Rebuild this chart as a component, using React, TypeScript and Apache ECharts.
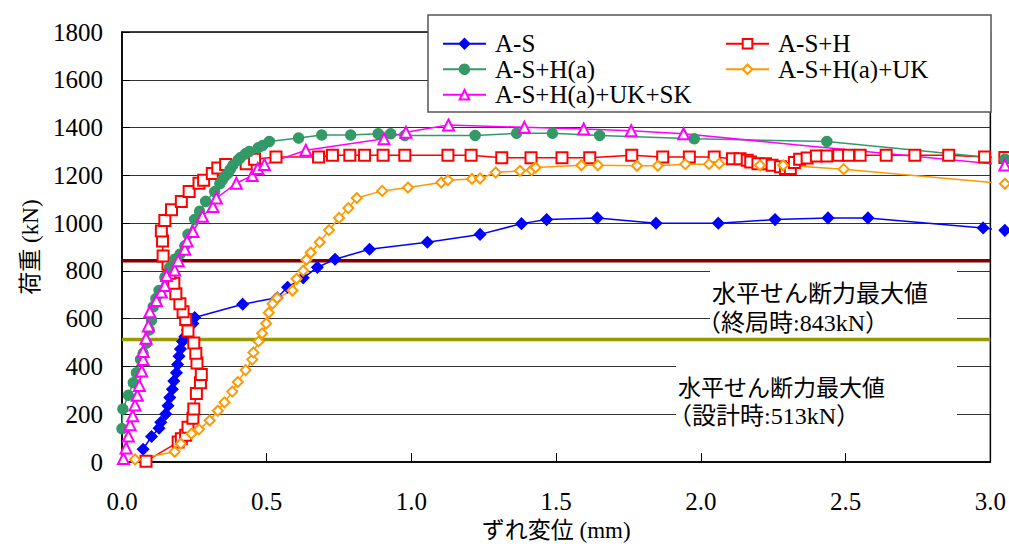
import React, { useEffect, useRef } from "react";
import * as echarts from "echarts";

const X_TICKS = [0, 0.5, 1.0, 1.5, 2.0, 2.5, 3.0];
const Y_MAX = 1800;
const Y_STEP = 200;
const ULTIMATE_KN = 843;
const DESIGN_KN = 513;

const NAMES = ["A-S", "A-S+H", "A-S+H(a)", "A-S+H(a)+UK", "A-S+H(a)+UK+SK"];

const AS: number[][] = [
  [0.073, 54], [0.102, 107], [0.128, 142], [0.134, 167], [0.151, 201], [0.159, 236], [0.165, 270],
  [0.174, 305], [0.179, 339], [0.188, 374], [0.192, 408], [0.197, 443], [0.202, 473], [0.209, 505],
  [0.217, 525], [0.226, 553], [0.245, 580], [0.251, 605], [0.417, 661], [0.536, 688], [0.572, 732],
  [0.626, 771], [0.675, 815], [0.736, 849], [0.855, 891], [1.055, 920], [1.237, 953], [1.38, 998],
  [1.467, 1015], [1.642, 1022], [1.845, 1000], [2.06, 1000], [2.256, 1015], [2.439, 1022],
  [2.577, 1022], [2.975, 980], [3.05, 970],
];

const ASH: number[][] = [
  [0.083, 4], [0.194, 84], [0.205, 98], [0.22, 112], [0.228, 146], [0.245, 183], [0.248, 222],
  [0.257, 287], [0.271, 332], [0.274, 367], [0.259, 415], [0.255, 456], [0.248, 498], [0.228, 549],
  [0.22, 597], [0.211, 629], [0.2, 663], [0.186, 705], [0.179, 749], [0.165, 790], [0.159, 829],
  [0.142, 863], [0.14, 925], [0.136, 967], [0.148, 1011], [0.171, 1056], [0.205, 1091], [0.232, 1132],
  [0.266, 1167], [0.282, 1180], [0.312, 1208], [0.331, 1231], [0.358, 1245], [0.429, 1249],
  [0.458, 1267], [0.532, 1277], [0.679, 1277], [0.727, 1284], [0.787, 1284], [0.838, 1284],
  [0.902, 1284], [0.977, 1284], [1.126, 1284], [1.206, 1284], [1.312, 1274], [1.413, 1274],
  [1.52, 1274], [1.616, 1274], [1.761, 1284], [1.868, 1277], [1.96, 1277], [2.046, 1277],
  [2.109, 1270], [2.135, 1270], [2.16, 1263], [2.172, 1256], [2.197, 1249], [2.223, 1249],
  [2.246, 1242], [2.275, 1236], [2.292, 1229], [2.309, 1229], [2.323, 1254], [2.341, 1267],
  [2.367, 1273], [2.399, 1281], [2.435, 1281], [2.476, 1284], [2.51, 1284], [2.55, 1284],
  [2.64, 1284], [2.739, 1284], [2.856, 1284], [2.98, 1277], [3.05, 1275],
];

const ASHA: number[][] = [
  [0.0, 140], [0.003, 222], [0.022, 280], [0.039, 332], [0.05, 374], [0.064, 429], [0.073, 456],
  [0.085, 498], [0.094, 553], [0.102, 594], [0.108, 650], [0.117, 684], [0.128, 718], [0.148, 774],
  [0.165, 815], [0.182, 849], [0.2, 870], [0.217, 905], [0.228, 953], [0.251, 1015], [0.268, 1050],
  [0.289, 1091], [0.32, 1132], [0.338, 1165], [0.346, 1180], [0.355, 1195], [0.366, 1208],
  [0.374, 1225], [0.383, 1242], [0.4, 1263], [0.41, 1275], [0.427, 1291], [0.44, 1300],
  [0.47, 1315], [0.486, 1325], [0.509, 1342], [0.61, 1356], [0.69, 1369], [0.79, 1369],
  [0.885, 1374], [0.928, 1374], [0.977, 1367], [1.22, 1367], [1.363, 1376], [1.487, 1376],
  [1.65, 1367], [1.977, 1353], [2.435, 1342], [3.05, 1268],
];

const ASHAUK: number[][] = [
  [0.045, 11], [0.182, 43], [0.203, 77], [0.24, 119], [0.266, 137], [0.303, 174], [0.331, 215],
  [0.354, 250], [0.381, 295], [0.4, 335], [0.427, 385], [0.45, 429], [0.454, 459], [0.472, 505],
  [0.484, 539], [0.498, 580], [0.507, 625], [0.52, 663], [0.536, 687], [0.589, 718], [0.603, 767],
  [0.626, 801], [0.637, 847], [0.652, 877], [0.683, 920], [0.715, 971], [0.75, 1022], [0.782, 1063],
  [0.811, 1105], [0.899, 1135], [0.988, 1149], [1.103, 1170], [1.126, 1180], [1.209, 1185],
  [1.237, 1187], [1.291, 1212], [1.375, 1219], [1.415, 1222], [1.429, 1233], [1.587, 1242],
  [1.644, 1242], [1.779, 1240], [1.851, 1240], [1.946, 1247], [2.028, 1247], [2.063, 1249],
  [2.204, 1242], [2.284, 1242], [2.493, 1226], [3.05, 1165],
];

const ASHAUKSK: number[][] = [
  [0.005, 15], [0.014, 59], [0.022, 109], [0.028, 156], [0.037, 194], [0.045, 239], [0.053, 280],
  [0.06, 321], [0.068, 381], [0.073, 429], [0.073, 463], [0.083, 518], [0.091, 570], [0.096, 629],
  [0.119, 676], [0.136, 712], [0.148, 739], [0.154, 781], [0.182, 804], [0.194, 843], [0.217, 891],
  [0.225, 925], [0.245, 965], [0.278, 1029], [0.314, 1070], [0.326, 1105], [0.395, 1167],
  [0.45, 1199], [0.469, 1229], [0.492, 1245], [0.635, 1305], [0.905, 1353], [0.981, 1380],
  [1.128, 1411], [1.39, 1401], [1.595, 1394], [1.759, 1387], [1.94, 1374], [3.05, 1243],
];

const SERIF = "Liberation Serif, Noto Sans CJK JP, serif";
const GOTHIC = "Noto Sans CJK JP, sans-serif";

export default function App() {
  const ref = useRef<HTMLDivElement>(null);
  useEffect(() => {
    if (!ref.current) return;
    const chart = echarts.init(ref.current, undefined, { renderer: "svg" });
    const mk = (name: string, data: number[][], color: string, symbol: string, size: number) => ({
      name,
      type: "line",
      data,
      clip: false,
      symbol,
      symbolSize: size,
      showSymbol: true,
      lineStyle: { color, width: 1.5 },
      itemStyle: { color, borderColor: color, borderWidth: 1.5 },
      z: 3,
    });
    const legendText = {
      fontFamily: SERIF,
      fontSize: 25,
      lineHeight: 25.5,
      color: "#000",
      padding: [0, 0, 0, 4],
    };
    const option: any = {
      animation: false,
      backgroundColor: "#fff",
      grid: {
        left: 122,
        right: 15,
        top: 32,
        bottom: 80,
        show: true,
        borderColor: "#000",
        borderWidth: 1.5,
        backgroundColor: "transparent",
      },
      legend: [
        {
          data: [NAMES[0], NAMES[2], NAMES[4]],
          orient: "vertical",
          left: 437,
          top: 26,
          itemWidth: 43,
          itemHeight: 12,
          itemGap: 0,
          selectedMode: false,
          textStyle: legendText,
          z: 10,
        },
        {
          data: [NAMES[1], NAMES[3]],
          orient: "vertical",
          left: 720,
          top: 26,
          itemWidth: 43,
          itemHeight: 12,
          itemGap: 0,
          selectedMode: false,
          textStyle: legendText,
          z: 10,
        },
      ],
      xAxis: {
        type: "value",
        min: X_TICKS[0],
        max: X_TICKS[X_TICKS.length - 1],
        interval: 0.5,
        name: "ずれ変位 (mm)",
        nameLocation: "middle",
        nameGap: 56,
        nameTextStyle: { fontFamily: SERIF, fontSize: 23, color: "#000" },
        axisLine: { lineStyle: { color: "#000", width: 1.5 } },
        axisTick: { inside: true, length: 9, lineStyle: { color: "#000" } },
        splitLine: { show: false },
        axisLabel: {
          fontFamily: SERIF,
          fontSize: 25,
          color: "#000",
          margin: 27,
          formatter: (v: number) => v.toFixed(1),
        },
      },
      yAxis: {
        type: "value",
        min: 0,
        max: Y_MAX,
        interval: Y_STEP,
        name: "荷重 (kN)",
        nameLocation: "middle",
        nameGap: 76,
        nameRotate: 90,
        nameTextStyle: { fontFamily: SERIF, fontSize: 23, color: "#000" },
        axisLine: { show: true, lineStyle: { color: "#000", width: 1.5 } },
        axisTick: { show: true, inside: true, length: 8, lineStyle: { color: "#000" } },
        splitLine: { show: true, lineStyle: { color: "#333", width: 1 } },
        axisLabel: {
          fontFamily: SERIF,
          fontSize: 25,
          color: "#000",
          margin: 19,
          formatter: (v: number) => String(v),
        },
      },
      series: [
        {
          type: "line",
          data: [[X_TICKS[0], ULTIMATE_KN], [X_TICKS[X_TICKS.length - 1], ULTIMATE_KN]],
          symbol: "none",
          lineStyle: { color: "#800000", width: 3.5 },
          z: 2,
          silent: true,
        },
        {
          type: "line",
          data: [[X_TICKS[0], DESIGN_KN], [X_TICKS[X_TICKS.length - 1], DESIGN_KN]],
          symbol: "none",
          lineStyle: { color: "#999900", width: 3.5 },
          z: 2,
          silent: true,
        },
        mk(NAMES[0], AS, "#0000ff", "diamond", 11),
        mk(NAMES[1], ASH, "#ff0000", "emptyRect", 11),
        mk(NAMES[2], ASHA, "#339966", "circle", 10),
        mk(NAMES[3], ASHAUK, "#ff9900", "emptyDiamond", 10),
        mk(NAMES[4], ASHAUKSK, "#ff00ff", "emptyTriangle", 11),
      ],
      graphic: [
        {
          type: "rect",
          z: 5,
          shape: { x: 428, y: 15, width: 563, height: 97 },
          style: { fill: "#fff", stroke: "#555", lineWidth: 1.5 },
        },
        {
          type: "rect",
          z: 1,
          shape: { x: 710, y: 267, width: 247, height: 70 },
          style: { fill: "#fff" },
        },
        {
          type: "rect",
          z: 1,
          shape: { x: 676, y: 360, width: 281, height: 72 },
          style: { fill: "#fff" },
        },
        {
          type: "text",
          z: 6,
          x: 712,
          y: 291,
          style: { text: "水平せん断力最大値", fontFamily: GOTHIC, fontSize: 24, fill: "#000", verticalAlign: "middle" },
        },
        {
          type: "text",
          z: 6,
          x: 697,
          y: 323,
          style: { text: "（終局時:" + ULTIMATE_KN + "kN）", fontFamily: SERIF, fontSize: 24, fill: "#000", verticalAlign: "middle" },
        },
        {
          type: "text",
          z: 6,
          x: 678,
          y: 386,
          style: { text: "水平せん断力最大値", fontFamily: GOTHIC, fontSize: 23, fill: "#000", verticalAlign: "middle" },
        },
        {
          type: "text",
          z: 6,
          x: 668,
          y: 416,
          style: { text: "（設計時:" + DESIGN_KN + "kN）", fontFamily: SERIF, fontSize: 24, fill: "#000", verticalAlign: "middle" },
        },
      ],
    };
    chart.setOption(option);
    return () => chart.dispose();
  }, []);
  return (
    <div
      ref={ref}
      style={{ position: "absolute", left: 0, top: 0, width: 1009, height: 547, background: "#fff" }}
    />
  );
}
